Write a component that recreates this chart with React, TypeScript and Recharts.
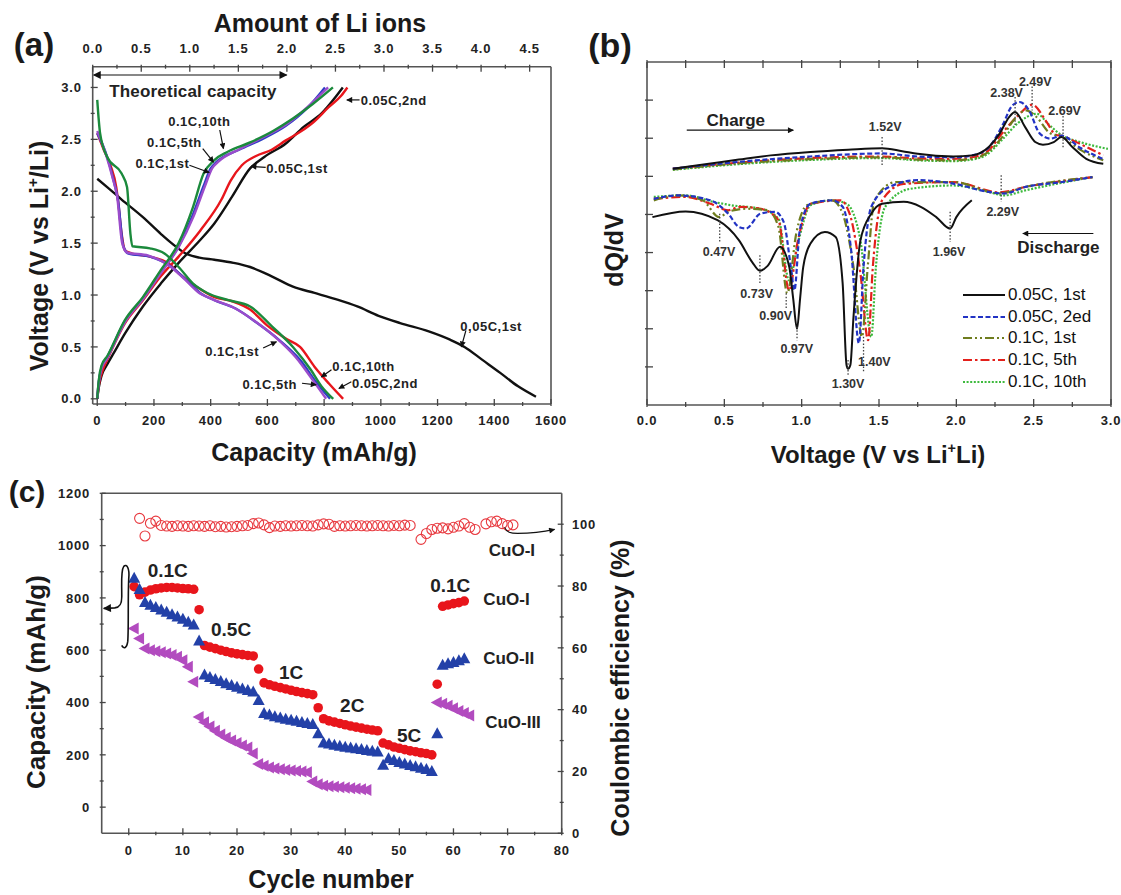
import React from 'react';
import {
  LineChart, Line, ScatterChart, Scatter, XAxis, YAxis,
  ReferenceLine, ReferenceDot, Legend,
} from 'recharts';

const FONT = '"Liberation Sans", Arial, Helvetica, sans-serif';
const INK = '#1a1a1a';
const FRAME = { stroke: '#555', strokeWidth: 1.6 };

// ---------- (a) capacity (mAh/g) vs voltage (V) ----------
const A_CAP_TICKS = [0, 100, 200, 300, 400, 500, 600, 700, 800, 900, 1000, 1100, 1200, 1300, 1400, 1500, 1600];
const A_LI_TICKS = [0, 0.25, 0.5, 0.75, 1, 1.25, 1.5, 1.75, 2, 2.25, 2.5, 2.75, 3, 3.25, 3.5, 3.75, 4, 4.25, 4.5];
const A_V_TICKS = [0, 0.25, 0.5, 0.75, 1, 1.25, 1.5, 1.75, 2, 2.25, 2.5, 2.75, 3];
// mAh/g per Li ion on the top axis (0 Li at -16 mAh/g)
const A_CAP_PER_LI = 344.4;
const A_LI_ORIGIN = -16;

const A_005_1ST_DIS = [[0, 2.12], [35, 2.04], [86, 1.92], [161, 1.75], [224, 1.59], [262, 1.5], [312, 1.4], [360, 1.36], [413, 1.34], [480, 1.31], [539, 1.27], [615, 1.18], [690, 1.08], [766, 1.02], [841, 0.96], [917, 0.89], [992, 0.8], [1068, 0.73], [1169, 0.65], [1244, 0.57], [1295, 0.5], [1358, 0.375], [1421, 0.25], [1484, 0.12], [1547, 0.02]];
const A_005_1ST_CHG = [[0, 0], [5, 0.1], [15, 0.22], [35, 0.33], [60, 0.45], [98, 0.63], [161, 0.89], [224, 1.11], [287, 1.31], [363, 1.53], [413, 1.69], [476, 1.95], [539, 2.22], [589, 2.33], [665, 2.46], [728, 2.62], [791, 2.75], [841, 2.91], [866, 3.0]];
const A_005_2ND_DIS = [[0, 2.56], [23, 2.4], [48, 2.24], [67, 2.04], [73, 1.92], [86, 1.59], [98, 1.43], [123, 1.4], [186, 1.37], [249, 1.31], [287, 1.21], [350, 1.08], [413, 0.98], [476, 0.94], [539, 0.86], [602, 0.7], [665, 0.58], [715, 0.5], [766, 0.31], [816, 0.15], [867, 0]];
const A_005_2ND_CHG = [[0, 0], [5, 0.12], [20, 0.28], [35, 0.375], [98, 0.73], [161, 0.95], [224, 1.18], [287, 1.37], [363, 1.62], [438, 1.92], [470, 2.1], [510, 2.25], [560, 2.34], [615, 2.4], [665, 2.49], [720, 2.58], [760, 2.66], [816, 2.81], [860, 2.92], [882, 3.0]];
const A_01_1ST_DIS = [[0, 2.56], [35, 2.33], [60, 2.08], [73, 1.92], [92, 1.47], [110, 1.4], [186, 1.37], [262, 1.27], [312, 1.15], [363, 1.02], [413, 0.95], [488, 0.87], [564, 0.73], [640, 0.57], [715, 0.375], [775, 0.15], [821, 0]];
const A_01_1ST_CHG = [[0, 0], [5, 0.15], [15, 0.3], [35, 0.4], [98, 0.75], [161, 0.97], [224, 1.22], [287, 1.47], [338, 1.78], [375, 2.05], [400, 2.22], [420, 2.28], [500, 2.4], [580, 2.5], [665, 2.63], [740, 2.8], [803, 3.0]];
const A_01_5TH_DIS = [[0, 2.58], [30, 2.36], [55, 2.12], [70, 1.95], [88, 1.5], [105, 1.41], [180, 1.38], [255, 1.28], [305, 1.16], [355, 1.03], [405, 0.96], [480, 0.88], [555, 0.75], [630, 0.59], [700, 0.4], [760, 0.18], [807, 0]];
const A_01_5TH_CHG = [[0, 0], [5, 0.15], [15, 0.29], [35, 0.39], [98, 0.74], [161, 0.96], [224, 1.21], [287, 1.46], [340, 1.76], [380, 2.05], [405, 2.22], [425, 2.28], [505, 2.41], [585, 2.52], [670, 2.65], [745, 2.82], [814, 3.0]];
const A_01_10TH_DIS = [[0, 2.88], [10, 2.56], [35, 2.33], [86, 2.17], [105, 2.04], [117, 1.59], [124, 1.47], [186, 1.45], [237, 1.4], [287, 1.27], [338, 1.11], [388, 1.02], [463, 0.95], [539, 0.89], [615, 0.7], [690, 0.5], [753, 0.28], [791, 0.12], [832, 0]];
const A_01_10TH_CHG = [[0, 0], [5, 0.17], [15, 0.32], [35, 0.41], [98, 0.76], [161, 0.98], [224, 1.24], [287, 1.5], [338, 1.85], [375, 2.17], [413, 2.3], [460, 2.38], [539, 2.47], [620, 2.58], [690, 2.7], [760, 2.84], [831, 3.0]];

const A_SERIES = [
  { id: 'a1', curves: [A_005_1ST_DIS, A_005_1ST_CHG], color: '#111111' },
  { id: 'a2', curves: [A_005_2ND_DIS, A_005_2ND_CHG], color: '#e8161c' },
  { id: 'a3', curves: [A_01_1ST_DIS, A_01_1ST_CHG], color: '#2c3fc4' },
  { id: 'a4', curves: [A_01_5TH_DIS, A_01_5TH_CHG], color: '#9b4ccb' },
  { id: 'a5', curves: [A_01_10TH_DIS, A_01_10TH_CHG], color: '#1b8a3c' },
];

const A_NOTES = [
  { t: 'Theoretical capacity', x: 42, y: 2.97, anchor: 'start', size: 17 },
  { t: '0.05C,2nd', x: 929, y: 2.88, anchor: 'start' },
  { t: '0.1C,10th', x: 360, y: 2.67 },
  { t: '0.1C,5th', x: 272, y: 2.47 },
  { t: '0.1C,1st', x: 230, y: 2.27 },
  { t: '0.05C,1st', x: 596, y: 2.22, anchor: 'start' },
  { t: '0,05C,1st', x: 1389, y: 0.7 },
  { t: '0.1C,1st', x: 476, y: 0.455 },
  { t: '0.1C,10th', x: 829, y: 0.31, anchor: 'start' },
  { t: '0.1C,5th', x: 608, y: 0.135 },
  { t: '0.05C,2nd', x: 898, y: 0.15, anchor: 'start' },
];
const A_ARROWS = [
  [[925, 2.88], [880, 2.88]],
  [[432, 2.59], [445, 2.41]],
  [[372, 2.41], [410, 2.28]],
  [[325, 2.25], [395, 2.18]],
  [[594, 2.23], [542, 2.24]],
  [[1300, 0.66], [1284, 0.5]],
  [[585, 0.49], [632, 0.55]],
  [[826, 0.28], [790, 0.21]],
  [[722, 0.15], [772, 0.135]],
  [[896, 0.165], [852, 0.1]],
];

// ---------- (b) dQ/dV vs voltage ----------
const B_V_TICKS = [0, 0.25, 0.5, 0.75, 1, 1.25, 1.5, 1.75, 2, 2.25, 2.5, 2.75, 3];
const B_D_TICKS = [1, 2, 3, 4, 5, 6, 7, 8];

const B_005_1ST_CHG = [[0.167, 6.2], [0.4, 6.33], [0.594, 6.44], [0.8, 6.55], [1.057, 6.64], [1.3, 6.7], [1.52, 6.74], [1.65, 6.66], [1.75, 6.59], [1.98, 6.52], [2.1, 6.55], [2.21, 6.77], [2.28, 7.12], [2.34, 7.55], [2.38, 7.69], [2.445, 7.29], [2.51, 6.9], [2.56, 6.83], [2.63, 6.9], [2.68, 7.03], [2.75, 6.77], [2.84, 6.46], [2.95, 6.33]];
const B_005_1ST_DIS = [[0.035, 4.93], [0.25, 5.08], [0.456, 4.85], [0.595, 4.32], [0.68, 3.75], [0.73, 3.52], [0.78, 3.65], [0.86, 4.15], [0.92, 3.62], [0.945, 2.8], [0.97, 2.0], [0.99, 2.8], [1.01, 3.62], [1.057, 4.24], [1.15, 4.54], [1.22, 4.41], [1.265, 3.19], [1.29, 1.05], [1.3, 0.95], [1.315, 1.05], [1.335, 2.31], [1.38, 4.32], [1.45, 5.02], [1.52, 5.28], [1.66, 5.33], [1.77, 5.2], [1.87, 4.93], [1.96, 4.63], [2.0, 4.93], [2.1, 5.37]];
const B_005_2ND_CHG = [[0.167, 6.2], [0.594, 6.38], [1.057, 6.52], [1.52, 6.6], [1.75, 6.52], [1.98, 6.5], [2.1, 6.55], [2.2, 6.72], [2.3, 7.35], [2.36, 7.85], [2.41, 7.95], [2.47, 7.73], [2.54, 7.12], [2.61, 6.99], [2.68, 7.07], [2.8, 6.75], [2.95, 6.45]];
const B_005_2ND_DIS = [[0.044, 5.41], [0.2, 5.5], [0.41, 5.37], [0.525, 5.02], [0.595, 4.67], [0.64, 4.63], [0.733, 5.02], [0.826, 5.07], [0.884, 4.8], [0.93, 3.62], [0.953, 3.01], [0.988, 4.59], [1.057, 5.28], [1.196, 5.37], [1.265, 5.2], [1.32, 4.06], [1.37, 1.62], [1.4, 3.62], [1.45, 5.2], [1.566, 5.72], [1.75, 5.9], [1.98, 5.81], [2.21, 5.59], [2.31, 5.55], [2.445, 5.72], [2.68, 5.85], [2.88, 5.98]];
const B_01_1ST_CHG = [[0.167, 6.18], [0.594, 6.34], [1.057, 6.45], [1.52, 6.5], [1.75, 6.44], [1.98, 6.42], [2.1, 6.46], [2.2, 6.62], [2.3, 7.05], [2.37, 7.47], [2.45, 7.73], [2.52, 7.55], [2.6, 7.15], [2.69, 7.02], [2.8, 6.7], [2.95, 6.42]];
const B_01_1ST_DIS = [[0.044, 5.37], [0.2, 5.5], [0.36, 5.37], [0.467, 4.93], [0.525, 5.07], [0.64, 5.15], [0.78, 5.11], [0.85, 4.67], [0.907, 2.93], [0.965, 4.5], [1.034, 5.24], [1.196, 5.37], [1.265, 5.02], [1.335, 3.62], [1.39, 1.79], [1.427, 3.62], [1.47, 5.37], [1.61, 5.85], [1.98, 5.85], [2.28, 5.55], [2.445, 5.72], [2.88, 5.98]];
const B_01_5TH_CHG = [[0.167, 6.2], [0.594, 6.36], [1.057, 6.48], [1.52, 6.52], [1.75, 6.47], [1.98, 6.46], [2.1, 6.5], [2.2, 6.65], [2.3, 7.15], [2.4, 7.6], [2.49, 7.88], [2.58, 7.45], [2.64, 7.1], [2.69, 7.05], [2.8, 6.85], [2.95, 6.55]];
const B_01_5TH_DIS = [[0.044, 5.41], [0.25, 5.46], [0.41, 5.28], [0.525, 5.11], [0.6, 5.2], [0.733, 5.15], [0.85, 4.85], [0.918, 3.01], [0.976, 4.32], [1.057, 5.28], [1.25, 5.37], [1.31, 5.02], [1.38, 3.45], [1.43, 1.7], [1.46, 3.62], [1.52, 5.37], [1.66, 5.8], [1.98, 5.85], [2.28, 5.58], [2.445, 5.72], [2.88, 5.98]];
const B_01_10TH_CHG = [[0.167, 6.17], [0.594, 6.32], [1.057, 6.43], [1.52, 6.48], [1.75, 6.42], [1.98, 6.4], [2.1, 6.44], [2.2, 6.58], [2.3, 6.98], [2.4, 7.4], [2.52, 7.64], [2.6, 7.35], [2.68, 7.08], [2.8, 6.9], [2.98, 6.72]];
const B_01_10TH_DIS = [[0.044, 5.46], [0.25, 5.5], [0.43, 5.33], [0.548, 5.24], [0.733, 5.15], [0.85, 4.89], [0.918, 3.27], [0.98, 4.32], [1.057, 5.24], [1.196, 5.37], [1.29, 5.28], [1.38, 4.32], [1.45, 1.79], [1.48, 3.62], [1.54, 5.2], [1.7, 5.67], [1.98, 5.76], [2.21, 5.59], [2.31, 5.5], [2.445, 5.63], [2.88, 5.98]];

const B_SERIES = [
  { name: '0.05C, 1st', curves: [B_005_1ST_CHG, B_005_1ST_DIS], color: '#111111', dash: undefined },
  { name: '0.05C, 2ed', curves: [B_005_2ND_CHG, B_005_2ND_DIS], color: '#2233c4', dash: '5 2.5' },
  { name: '0.1C, 1st', curves: [B_01_1ST_CHG, B_01_1ST_DIS], color: '#6f7d1e', dash: '9 3 2 3 2 3' },
  { name: '0.1C, 5th', curves: [B_01_5TH_CHG, B_01_5TH_DIS], color: '#e3201b', dash: '9 3 2.5 3' },
  { name: '0.1C, 10th', curves: [B_01_10TH_CHG, B_01_10TH_DIS], color: '#3dba3d', dash: '2 1.6' },
];

const B_PEAKS = [[1.52, 7.03, 6.25], [2.38, 8.08, 7.3], [2.49, 8.36, 7.73], [2.69, 7.58, 6.73], [2.29, 6.03, 5.33], [0.47, 5.02, 4.24], [0.73, 3.93, 3.19], [0.9, 2.93, 2.53], [0.97, 2.05, 1.7], [1.3, 1.18, 0.79], [1.4, 1.79, 0.87], [1.96, 5.07, 4.28]];
const B_PEAK_LABELS = [['1.52V', 1.54, 7.31], ['2.38V', 2.325, 8.21], ['2.49V', 2.51, 8.5], ['2.69V', 2.7, 7.73], ['2.29V', 2.3, 5.07], ['0.47V', 0.466, 4.02], ['0.73V', 0.709, 2.93], ['0.90V', 0.832, 2.36], ['0.97V', 0.968, 1.49], ['1.30V', 1.3, 0.57], ['1.40V', 1.47, 1.14], ['1.96V', 1.953, 4.02]];

// ---------- (c) rate capability ----------
const C_CYCLE_TICKS = [0, 5, 10, 15, 20, 25, 30, 35, 40, 45, 50, 55, 60, 65, 70, 75, 80];
const C_CAP_TICKS = [0, 100, 200, 300, 400, 500, 600, 700, 800, 900, 1000, 1100, 1200];
const C_CE_TICKS = [0, 10, 20, 30, 40, 50, 60, 70, 80, 90, 100];

// capacity per cycle (cycle = index + 1)
const C_CUO_I = [843, 812, 822, 830, 835, 838, 840, 840, 838, 836, 835, 833,
  755,
  618, 612, 606, 600, 595, 590, 586, 583, 580, 578,
  528,
  475, 468, 462, 457, 452, 447, 442, 438, 434, 430,
  380,
  338, 330, 325, 320, 315, 310, 306, 302, 298, 295, 292,
  245, 238, 230, 225, 220, 215, 212, 208, 205, 200,
  470,
  768, 773, 778, 782, 788];
const C_CUO_II = [875, 832, 782, 772, 763, 754, 745, 736, 727, 718, 707, 696,
  635,
  505, 496, 488, 480, 472, 465, 458, 452, 446, 440,
  408,
  358, 352, 346, 341, 336, 332, 328, 324, 320, 316,
  281,
  245, 241, 237, 233, 229, 226, 223, 220, 217, 214, 211,
  160, 185, 178, 171, 165, 159, 154, 149, 144, 136,
  281,
  543, 548, 553, 560, 567];
const C_CUO_III = [683, 645, 607, 600, 596, 592, 587, 582, 575, 562, 537, 479,
  345, 325, 308, 292, 278, 265, 255, 245, 236, 228, 205,
  165, 158, 152, 148, 145, 142, 140, 138, 136, 133,
  98, 88, 82, 80, 78, 76, 74, 72, 70, 68, 66,
  null, null, null, null, null, null, null, null, null, null, null, null,
  400, 395, 388, 378, 368, 360, 350];
const C_CE = [null, 101.9, 96.2, 100.3, 101.0, 99.6, 99.4, 99.3, 99.5, 99.4,
  99.3, 99.5, 99.4, 99.3, 99.5, 99.2, 99.3, 99.1, 99.2, 99.3,
  99.5, 99.6, 100.2, 100.4, 99.8, 98.9, 99.4, 99.3, 99.5, 99.4,
  99.5, 99.6, 99.5, 99.4, 99.8, 100.1, 100.0, 99.3, 99.5, 99.4,
  99.5, 99.6, 99.5, 99.4, 99.5, 99.6, 99.5, 99.4, 99.6, 99.5,
  99.7, 99.6, null, 95.1, 97.0, 98.3, 98.7, 98.8, 98.5, 99.0,
  99.4, 100.2, 99.0, 98.3, null, 100.1, 100.8, 101.0, 100.2, 99.6,
  99.8];

const C_NOTES = [
  { t: '0.1C', x: 7.2, y: 906, size: 19 },
  { t: '0.5C', x: 18.9, y: 680, size: 19 },
  { t: '1C', x: 30.0, y: 517, size: 19 },
  { t: '2C', x: 41.3, y: 390, size: 19 },
  { t: '5C', x: 51.8, y: 275, size: 19 },
  { t: '0.1C', x: 59.4, y: 849, size: 19 },
  { t: 'CuO-I', x: 70.8, y: 983, size: 17 },
  { t: 'CuO-I', x: 69.8, y: 798, size: 17 },
  { t: 'CuO-II', x: 70.2, y: 569, size: 17 },
  { t: 'CuO-III', x: 71.0, y: 326, size: 17 },
];

const toXY = (arr: number[][]) => arr.map(([x, y]) => ({ x, y }));
const byCycle = (arr: (number | null)[]) =>
  arr.map((v, i) => (v == null ? null : { c: i + 1, v })).filter(Boolean) as { c: number; v: number }[];

type Side = 'bottom' | 'top' | 'left' | 'right';
function makeTick(side: Side, step: number, fmt: ((v: number) => string) | null, o: any = {}) {
  const len = o.len ?? 7;
  const minor = o.minor ?? 4;
  const gap = o.gap ?? 8;
  const size = o.size ?? 13;
  return (p: any) => {
    const v = Number(p.payload?.value);
    const q = v / step;
    const major = Math.abs(q - Math.round(q)) < 1e-6;
    const L = major ? len : minor;
    const { x, y } = p;
    let x2 = x, y2 = y, tx = x, ty = y;
    let anchor: any = 'middle';
    if (side === 'bottom') { y2 = y - L; ty = y + gap; }
    else if (side === 'top') { y2 = y + L; ty = y - gap; }
    else if (side === 'left') { x2 = x + L; tx = x - gap; ty = y + size * 0.36; anchor = 'end'; }
    else { x2 = x - L; tx = x + gap; ty = y + size * 0.36; anchor = 'start'; }
    return (
      <g>
        <line x1={x} y1={y} x2={x2} y2={y2} stroke="#444" strokeWidth={1.3} />
        {fmt && major ? (
          <text x={tx} y={ty} textAnchor={anchor} fontSize={size} fontWeight="bold" fill="#222"
            fontFamily={FONT} letterSpacing={0.8}>{fmt(v)}</text>
        ) : null}
      </g>
    );
  };
}

const textShape = (t: string, o: any = {}) => (p: any) => (
  <text x={p.cx} y={p.cy} dy="0.36em" textAnchor={o.anchor ?? 'middle'} fontSize={o.size ?? 13}
    fontWeight="bold" fill={o.color ?? '#222'} fontFamily={FONT} letterSpacing={o.ls ?? 0.3}>{t}</text>
);
const arrowShape = (marker = 'arrS', both = false) => (p: any) => (
  <line x1={p.x1} y1={p.y1} x2={p.x2} y2={p.y2} stroke="#111" strokeWidth={1.2}
    markerEnd={`url(#${marker})`} markerStart={both ? `url(#${marker})` : undefined} />
);
const dottedShape = (p: any) => (
  <line x1={p.x1} y1={p.y1} x2={p.x2} y2={p.y2} stroke="#444" strokeWidth={1.3} strokeDasharray="1.5 1.8" />
);
const noShape = () => <g />;

const Markers = () => (
  <svg width={0} height={0} style={{ position: 'absolute' }}>
    <defs>
      <marker id="arrS" viewBox="0 0 10 10" refX="9" refY="5" markerWidth="7" markerHeight="6"
        markerUnits="userSpaceOnUse" orient="auto-start-reverse">
        <path d="M0,0 L10,5 L0,10 z" fill="#111" />
      </marker>
      <marker id="arrL" viewBox="0 0 10 10" refX="9" refY="5" markerWidth="10" markerHeight="8"
        markerUnits="userSpaceOnUse" orient="auto-start-reverse">
        <path d="M0,0 L10,5 L0,10 z" fill="#111" />
      </marker>
    </defs>
  </svg>
);

function PanelA() {
  // same discharge expressed in Li ions, only to drive the top axis
  const liCurve = A_005_1ST_DIS.map(([c, v]) => [(c - A_LI_ORIGIN) / A_CAP_PER_LI, v]);
  return (
    <LineChart width={580} height={470} margin={{ top: 0, right: 28, bottom: 0, left: 0 }}>
      <XAxis xAxisId="cap" dataKey="x" type="number" domain={[-16, 1600]} allowDataOverflow
        ticks={A_CAP_TICKS} interval={0} tickSize={0} axisLine={FRAME} height={66}
        tick={makeTick('bottom', 200, (v) => String(v), { gap: 19 })} />
      <XAxis xAxisId="li" dataKey="x" orientation="top" type="number" domain={[0, 4.72]} allowDataOverflow
        ticks={A_LI_TICKS} interval={0} tickSize={0} axisLine={FRAME} height={66.7}
        tick={makeTick('top', 0.5, (v) => v.toFixed(1), { gap: 12 })} />
      <YAxis yAxisId="v" type="number" domain={[-0.05, 3.2]} allowDataOverflow
        ticks={A_V_TICKS} interval={0} tickSize={0} axisLine={FRAME} width={92.7}
        tick={makeTick('left', 0.5, (v) => v.toFixed(1), { gap: 9 })} />
      <YAxis yAxisId="vr" orientation="right" type="number" domain={[-0.05, 3.2]} allowDataOverflow
        tick={false} tickLine={false} axisLine={FRAME} width={1} />
      <Line xAxisId="li" yAxisId="vr" data={toXY(liCurve)} dataKey="y" stroke="none" dot={false}
        legendType="none" isAnimationActive={false} />
      {A_SERIES.flatMap((s) => s.curves.map((c, i) => (
        <Line key={s.id + i} xAxisId="cap" yAxisId="v" data={toXY(c)} dataKey="y" type="monotone"
          stroke={s.color} strokeWidth={2.4} dot={false} isAnimationActive={false} />
      )))}
      <ReferenceLine xAxisId="cap" yAxisId="v" segment={[{ x: -13, y: 3.12 }, { x: 668, y: 3.12 }]}
        ifOverflow="visible" shape={arrowShape('arrL', true)} />
      {A_ARROWS.map((a, i) => (
        <ReferenceLine key={'aa' + i} xAxisId="cap" yAxisId="v"
          segment={[{ x: a[0][0], y: a[0][1] }, { x: a[1][0], y: a[1][1] }]}
          ifOverflow="visible" shape={arrowShape()} />
      ))}
      {A_NOTES.map((n, i) => (
        <ReferenceDot key={'an' + i} xAxisId="cap" yAxisId="v" x={n.x} y={n.y} r={0} ifOverflow="visible"
          shape={textShape(n.t, { anchor: n.anchor, size: n.size ?? 13, ls: n.size ? 0.2 : 0.5 })} />
      ))}
    </LineChart>
  );
}

const legendB = () => (
  <div style={{ fontFamily: FONT, fontSize: 17, color: '#111' }}>
    {B_SERIES.map((s) => (
      <div key={s.name} style={{ display: 'flex', alignItems: 'center', height: 21.7 }}>
        <svg width={43} height={10}>
          <line x1={0} y1={5} x2={42} y2={5} stroke={s.color} strokeWidth={2.2} strokeDasharray={s.dash} />
        </svg>
        <span style={{ marginLeft: 2, whiteSpace: 'nowrap' }}>{s.name}</span>
      </div>
    ))}
  </div>
);

function PanelB() {
  const order = [...B_SERIES].reverse();
  return (
    <LineChart width={561} height={470} margin={{ top: 0, right: 9, bottom: 0, left: 0 }}>
      <XAxis xAxisId="v" dataKey="x" type="number" domain={[0, 3]} allowDataOverflow
        ticks={B_V_TICKS} interval={0} tickSize={0} axisLine={FRAME} height={65}
        tick={makeTick('bottom', 0.5, (v) => v.toFixed(1), { gap: 18, minor: 5, len: 8 })} />
      <XAxis xAxisId="vt" dataKey="x" orientation="top" type="number" domain={[0, 3]} allowDataOverflow
        ticks={B_V_TICKS} interval={0} tickSize={0} axisLine={FRAME} height={62}
        tick={makeTick('top', 0.25, null, { len: 8 })} />
      <YAxis yAxisId="d" type="number" domain={[0, 9]} allowDataOverflow
        ticks={B_D_TICKS} interval={0} tickSize={0} axisLine={FRAME} width={87}
        tick={makeTick('left', 1, null, { len: 8 })} />
      <YAxis yAxisId="dr" orientation="right" type="number" domain={[0, 9]} allowDataOverflow
        tick={false} tickLine={false} axisLine={FRAME} width={1} />
      <Line xAxisId="vt" yAxisId="dr" data={toXY(B_005_1ST_CHG)} dataKey="y" stroke="none" dot={false}
        legendType="none" isAnimationActive={false} />
      {order.flatMap((s) => s.curves.map((c, i) => (
        <Line key={s.name + i} name={s.name} xAxisId="v" yAxisId="d" data={toXY(c)} dataKey="y"
          type="monotone" stroke={s.color} strokeWidth={s.dash ? 2.2 : 2} strokeDasharray={s.dash}
          dot={false} isAnimationActive={false} legendType={i === 0 ? 'line' : 'none'} />
      )))}
      {B_PEAKS.map((p, i) => (
        <ReferenceLine key={'bp' + i} xAxisId="v" yAxisId="d"
          segment={[{ x: p[0], y: p[1] }, { x: p[0], y: p[2] }]} ifOverflow="visible" shape={dottedShape} />
      ))}
      {B_PEAK_LABELS.map((l, i) => (
        <ReferenceDot key={'bl' + i} xAxisId="v" yAxisId="d" x={l[1] as number} y={l[2] as number} r={0}
          ifOverflow="visible" shape={textShape(l[0] as string, { size: 12.5, color: '#333', ls: 0 })} />
      ))}
      <ReferenceLine xAxisId="v" yAxisId="d" segment={[{ x: 0.257, y: 7.21 }, { x: 0.946, y: 7.21 }]}
        ifOverflow="visible" shape={arrowShape('arrS')} />
      <ReferenceLine xAxisId="v" yAxisId="d" segment={[{ x: 2.886, y: 4.5 }, { x: 2.43, y: 4.5 }]}
        ifOverflow="visible" shape={arrowShape('arrS')} />
      <ReferenceDot xAxisId="v" yAxisId="d" x={0.574} y={7.47} r={0} ifOverflow="visible"
        shape={textShape('Charge', { size: 17, ls: 0 })} />
      <ReferenceDot xAxisId="v" yAxisId="d" x={2.66} y={4.15} r={0} ifOverflow="visible"
        shape={textShape('Discharge', { size: 17, ls: 0 })} />
      <Legend content={legendB} layout="horizontal" verticalAlign="middle" align="center"
        wrapperStyle={{ left: 403, top: 284, width: 'auto', height: 'auto' }} />
    </LineChart>
  );
}

const redDot = (p: any) => <circle cx={p.cx} cy={p.cy} r={4.8} fill="#e8151b" />;
const blueTri = (p: any) => (
  <path d={`M${p.cx},${p.cy - 6.5} L${p.cx + 6},${p.cy + 4.5} L${p.cx - 6},${p.cy + 4.5} Z`} fill="#2341a8" />
);
const magTri = (p: any) => (
  <path d={`M${p.cx - 6.5},${p.cy} L${p.cx + 4.5},${p.cy - 6} L${p.cx + 4.5},${p.cy + 6} Z`} fill="#b24bbf" />
);
const ceRing = (p: any) => <circle cx={p.cx} cy={p.cy} r={5} fill="none" stroke="#e8393f" strokeWidth={1.1} />;

const curlyShape = (p: any) => {
  const x = p.cx, y = p.cy;
  const d = `M${x - 25},${y} L${x - 14},${y - 0.5} C${x - 9},${y - 1} ${x - 7},${y - 4} ${x - 7},${y - 12}`
    + ` C${x - 7},${y - 28} ${x - 8},${y - 38} ${x - 5},${y - 42} C${x - 2},${y - 45} ${x + 1},${y - 40} ${x},${y - 30}`
    + ` C${x - 1},${y - 10} ${x},${y + 20} ${x - 1},${y + 33} C${x - 2},${y + 40} ${x - 5},${y + 41} ${x - 7},${y + 37}`;
  return <path d={d} fill="none" stroke="#111" strokeWidth={1.6} markerStart="url(#arrL)" />;
};
const hookShape = (p: any) => (
  <path d={`M${p.cx - 3},${p.cy - 3} C${p.cx - 1},${p.cy + 2} ${p.cx + 3},${p.cy + 3} ${p.cx + 10},${p.cy + 3} C${p.cx + 25},${p.cy + 3} ${p.cx + 38},${p.cy + 1} ${p.cx + 47},${p.cy - 1}`}
    fill="none" stroke="#111" strokeWidth={1.2} markerEnd="url(#arrS)" />
);

function PanelC() {
  return (
    <ScatterChart width={640} height={425} margin={{ top: 0, right: 0, bottom: 0, left: 0 }}>
      <XAxis xAxisId="c" dataKey="c" type="number" domain={[-5, 80]} allowDataOverflow
        ticks={C_CYCLE_TICKS} interval={0} tickSize={0} axisLine={FRAME} height={61.7}
        tick={makeTick('bottom', 10, (v) => String(v), { gap: 19.4, len: 7, minor: 3.5 })} />
      <XAxis xAxisId="ct" dataKey="c" orientation="top" type="number" domain={[-5, 80]} allowDataOverflow
        tick={false} tickLine={false} axisLine={FRAME} height={23.3} />
      <YAxis yAxisId="cap" dataKey="v" type="number" domain={[-100, 1200]} allowDataOverflow
        ticks={C_CAP_TICKS} interval={0} tickSize={0} axisLine={FRAME} width={101.7}
        tick={makeTick('left', 200, (v) => String(v), { gap: 9.7, len: 6, minor: 4 })} />
      <YAxis yAxisId="ce" dataKey="v" orientation="right" type="number" domain={[0, 110]} allowDataOverflow
        ticks={C_CE_TICKS} interval={0} tickSize={0} axisLine={FRAME} width={78.3}
        tick={makeTick('right', 20, (v) => String(v), { gap: 8.3, len: 6, minor: 4 })} />
      <Scatter xAxisId="ct" yAxisId="cap" data={byCycle(C_CUO_I)} shape={noShape} isAnimationActive={false} legendType="none" />
      <Scatter xAxisId="c" yAxisId="ce" data={byCycle(C_CE)} shape={ceRing} isAnimationActive={false} />
      <Scatter xAxisId="c" yAxisId="cap" data={byCycle(C_CUO_I)} shape={redDot} isAnimationActive={false} />
      <Scatter xAxisId="c" yAxisId="cap" data={byCycle(C_CUO_II)} shape={blueTri} isAnimationActive={false} />
      <Scatter xAxisId="c" yAxisId="cap" data={byCycle(C_CUO_III)} shape={magTri} isAnimationActive={false} />
      <ReferenceDot xAxisId="c" yAxisId="cap" x={0} y={760} r={0} ifOverflow="visible" shape={curlyShape} />
      <ReferenceDot xAxisId="c" yAxisId="ce" x={70} y={98} r={0} ifOverflow="visible" shape={hookShape} />
      {C_NOTES.map((n, i) => (
        <ReferenceDot key={'cn' + i} xAxisId="c" yAxisId="cap" x={n.x} y={n.y} r={0} ifOverflow="visible"
          shape={textShape(n.t, { size: n.size, ls: 0 })} />
      ))}
    </ScatterChart>
  );
}

const Title = ({ x, y, size, rotate, children }: any) => (
  <div style={{
    position: 'absolute', left: x, top: y, transform: `translate(-50%, -50%)${rotate ? ' rotate(-90deg)' : ''}`,
    fontSize: size, fontWeight: 'bold', whiteSpace: 'nowrap', lineHeight: 1, fontFamily: FONT, color: INK,
  }}>{children}</div>
);
const Sup = ({ children }: any) => (
  <span style={{ fontSize: '0.6em', position: 'relative', top: '-0.7em' }}>{children}</span>
);

export default function App() {
  return (
    <div style={{ position: 'absolute', left: 0, top: 0, width: 1121, height: 895, background: '#fff', overflow: 'hidden', fontFamily: FONT }}>
      <Markers />
      <div style={{ position: 'absolute', left: 0, top: 0 }}><PanelA /></div>
      <div style={{ position: 'absolute', left: 560, top: 0 }}><PanelB /></div>
      <div style={{ position: 'absolute', left: 0, top: 470 }}><PanelC /></div>

      <Title x={34} y={44} size={33}>(a)</Title>
      <Title x={610} y={45} size={34}>(b)</Title>
      <Title x={27} y={492} size={30}>(c)</Title>

      <Title x={320} y={23} size={25}>Amount of Li ions</Title>
      <Title x={314} y={452} size={25}>Capacity (mAh/g)</Title>
      <Title x={39} y={256} size={25} rotate>Voltage (V vs Li<Sup>+</Sup>/Li)</Title>

      <Title x={614} y={250} size={25} rotate>dQ/dV</Title>
      <Title x={878} y={455} size={24}>Voltage (V vs Li<Sup>+</Sup>Li)</Title>

      <Title x={36} y={682} size={26} rotate>Capacity (mAh/g)</Title>
      <Title x={620} y={688} size={25} rotate>Coulombic efficiency (%)</Title>
      <Title x={331} y={879} size={25}>Cycle number</Title>
    </div>
  );
}
